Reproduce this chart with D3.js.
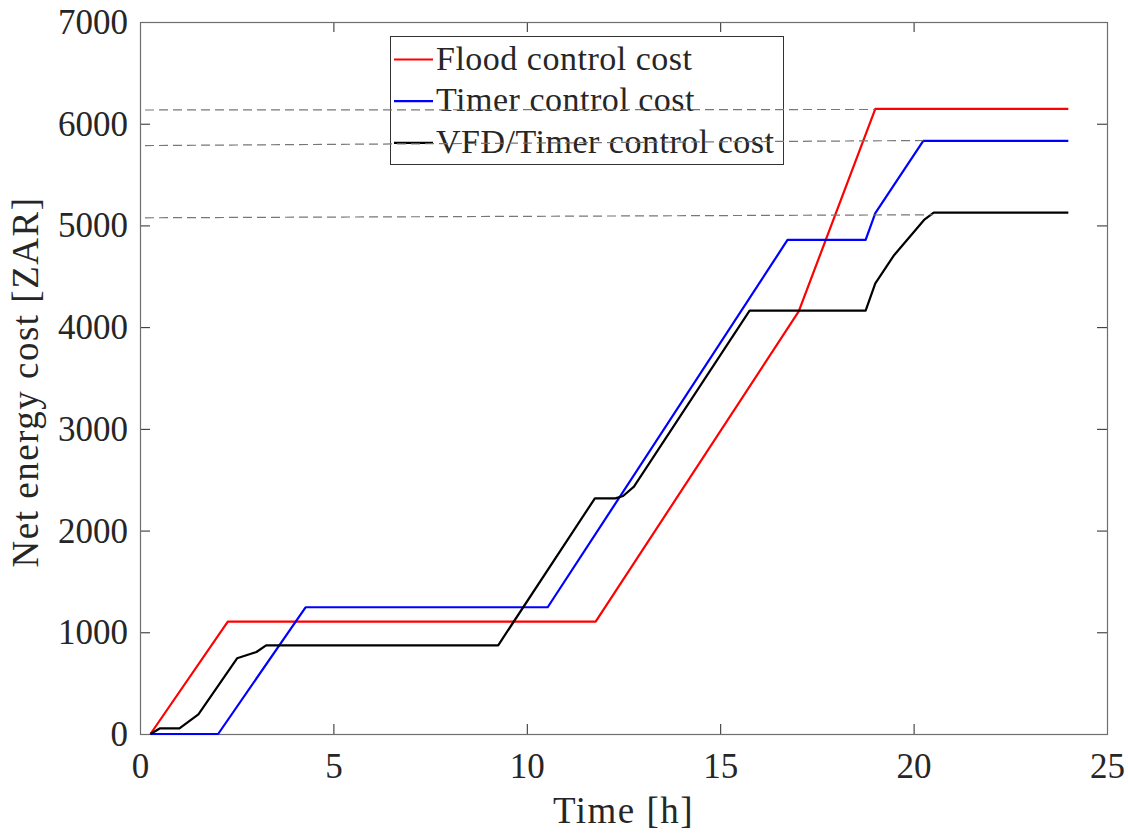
<!DOCTYPE html>
<html>
<head>
<meta charset="utf-8">
<script src="https://cdn.jsdelivr.net/npm/d3@7"></script>
<style>
  body { margin: 0; background: #fff; }
  text { font-family: "Liberation Serif", "Times New Roman", serif; fill: #262626; }
</style>
</head>
<body>
<div id="chart-area"></div>
<script>
/*
*    net energy cost chart
*/

// Data (time [h], cost [ZAR])
var floodTime = [0.27, 2.27, 11.78, 17.03, 19.01, 24];
var floodCost = [0, 1104, 1104, 4155, 6145, 6145];

var timerTime = [0.27, 2.02, 4.28, 10.54, 16.74, 18.76, 19.01, 20.25, 24];
var timerCost = [0, 0, 1246, 1246, 4857, 4857, 5120, 5831, 5831];

var vfdTime = [0.27, 0.52, 1.02, 1.51, 2.51, 3.01, 3.26, 9.26, 11.76, 12.29, 12.49, 12.77, 15.76, 18.76, 19.01, 19.5, 20.27, 20.52, 24];
var vfdCost = [0, 56, 56, 194, 744, 806, 872, 872, 2317, 2317, 2340, 2432, 4162, 4162, 4431, 4710, 5054, 5126, 5126];

// dashed reference lines: start time, start cost, end time, end cost
var refStartTime = [0.13, 0.13, 0.13];
var refStartCost = [6135, 5785, 5075];
var refEndTime = [19.0, 20.25, 20.5];
var refEndCost = [6140, 5835, 5105];

var seriesNames = ["Flood control cost", "Timer control cost", "VFD/Timer control cost"];
var seriesColors = ["#ff0000", "#0000ff", "#000000"];

var xTicks = [0, 5, 10, 15, 20, 25];
var yTicks = [0, 1000, 2000, 3000, 4000, 5000, 6000, 7000];

var width = 1128;
var height = 837;
var margin = {top: 22, right: 21, bottom: 103, left: 140};
var w = width - margin.left - margin.right;
var h = height - margin.top - margin.bottom;

var svg = d3.select("#chart-area").append("svg").attr("width", width).attr("height", height);
var g = svg.append("g").attr("transform", "translate(" + margin.left + ", " + margin.top + ")");

// Scales
var x = d3.scaleLinear().domain([0, 25]).range([0, w]);
var y = d3.scaleLinear().domain([0, 7000]).range([h, 0]);

// Axis
var xAxisCall = d3.axisBottom(x).tickValues(xTicks).tickFormat(d3.format("d")).tickSizeInner(-10).tickSizeOuter(0).tickPadding(19);
var xAxisGroup = g.append("g").attr("class", "x axis").attr("transform", "translate(0, " + h + ")").call(xAxisCall);
xAxisGroup.selectAll("text").attr("font-size", "35px").attr("dy", "0.71em");

var yAxisCall = d3.axisLeft(y).tickValues(yTicks).tickFormat(d3.format("d")).tickSizeInner(-10).tickSizeOuter(0).tickPadding(12);
var yAxisGroup = g.append("g").attr("class", "y axis").call(yAxisCall);
yAxisGroup.selectAll("text").attr("font-size", "35px").attr("dy", "0.33em");

// ticks on top and right
var xTop = g.append("g").attr("class", "x axis").call(d3.axisTop(x).tickValues(xTicks).tickSizeInner(-10).tickSizeOuter(0).tickFormat(""));
var yRight = g.append("g").attr("class", "y axis").attr("transform", "translate(" + w + ",0)")
  .call(d3.axisRight(y).tickValues(yTicks).tickSizeInner(-10).tickSizeOuter(0).tickFormat(""));

g.selectAll(".axis .domain").remove();
g.selectAll(".axis line").attr("stroke", "#262626");
g.selectAll(".axis text").attr("fill", "#262626").style("font-family", "'Liberation Serif', serif");

g.append("rect").attr("x", 0.5).attr("y", 0.5).attr("width", w).attr("height", h)
  .attr("fill", "none").attr("stroke", "#6e6e6e").attr("stroke-width", 1.2);

// Labels
g.append("text").attr("x", w / 2).attr("y", h + 89).attr("font-size", "37px").attr("letter-spacing", "1.5px")
  .attr("text-anchor", "middle").text("Time [h]");

g.append("text").attr("transform", "translate(" + (38 - margin.left) + "," + (382 - margin.top) + ") rotate(-90)")
  .attr("font-size", "37px").attr("letter-spacing", "1.5px").attr("text-anchor", "middle").text("Net energy cost [ZAR]");

// Lines
var line = d3.line().x(function(d) { return x(d[0]); }).y(function(d) { return y(d[1]); });
var series = [
  d3.zip(floodTime, floodCost),
  d3.zip(timerTime, timerCost),
  d3.zip(vfdTime, vfdCost)
];

series.forEach(function(s, i) {
  g.append("path").datum(s).attr("d", line).attr("fill", "none")
    .attr("stroke", seriesColors[i]).attr("stroke-width", 2.2).attr("stroke-linejoin", "round");
});

// Legend (no background)
var legend = g.append("g").attr("transform", "translate(" + (390 - margin.left) + "," + (36 - margin.top) + ")");
legend.append("rect").attr("x", 0.5).attr("y", 0.5).attr("width", 393).attr("height", 128)
  .attr("fill", "none").attr("stroke", "#333").attr("stroke-width", 1);

seriesNames.forEach(function(name, i) {
  var row = legend.append("g").attr("transform", "translate(0, " + (23.5 + i * 41.7) + ")");
  row.append("line").attr("x1", 4).attr("x2", 43).attr("y1", 0).attr("y2", 0)
    .attr("stroke", seriesColors[i]).attr("stroke-width", 2.2);
  row.append("text").attr("x", 46).attr("y", 10).attr("font-size", "34px").attr("letter-spacing", "0.5px").text(name);
});

// Dashed reference lines
refStartTime.forEach(function(t0, i) {
  g.append("line").attr("x1", x(t0)).attr("y1", y(refStartCost[i]))
    .attr("x2", x(refEndTime[i])).attr("y2", y(refEndCost[i]))
    .attr("stroke", "#777").attr("stroke-width", 1.2).attr("stroke-dasharray", "9,5");
});
</script>
</body>
</html>
